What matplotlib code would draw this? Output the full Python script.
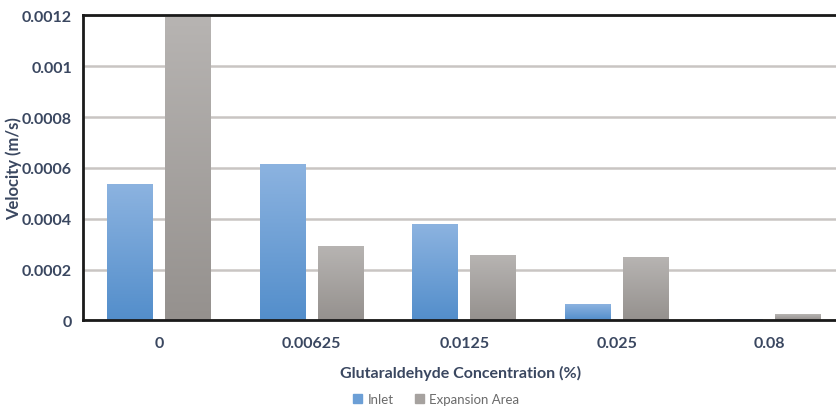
import numpy as np
import matplotlib
matplotlib.use("Agg")
import matplotlib.pyplot as plt
from matplotlib.colors import LinearSegmentedColormap
from matplotlib.patches import Patch

# data
concentrations = ["0", "0.00625", "0.0125", "0.025", "0.08"]
inlet = [0.000535, 0.00061, 0.000375, 0.000062, 0.000003]
expansion = [0.00119, 0.00029, 0.000253, 0.000244, 0.00002]
yticks = [0, 0.0002, 0.0004, 0.0006, 0.0008, 0.001, 0.0012]
ytick_labels = ["0", "0.0002", "0.0004", "0.0006", "0.0008", "0.001", "0.0012"]

text_color = "#3a4760"
plt.rcParams['font.family'] = ['Lato', 'DejaVu Sans']

fig = plt.figure(figsize=(8.36, 4.10), dpi=100)
# the plot area runs past the right edge of the picture, as in the reference
ax = fig.add_axes([0.0993, 0.2159, 0.912, 0.7439])

x = np.arange(len(concentrations))
w = 0.30
off = 0.19
b1 = ax.bar(x - off, inlet, w, color="#6c9fd6", zorder=2)
b2 = ax.bar(x + off, expansion, w, color="#a6a29f", zorder=2)

# vertical gradient fill inside each bar (lighter at top)
blue_cm = LinearSegmentedColormap.from_list("b", ["#538ecb", "#8cb3e0"])
gray_cm = LinearSegmentedColormap.from_list("g", ["#95918e", "#b7b4b2"])
grad = np.linspace(0, 1, 256).reshape(-1, 1)
for bars, cm in ((b1, blue_cm), (b2, gray_cm)):
    for b in bars:
        x0, h = b.get_x(), b.get_height()
        ax.imshow(grad, extent=[x0, x0 + b.get_width(), 0, h], origin="lower",
                  aspect="auto", cmap=cm, zorder=2.5)

ax.set_xlim(-0.5, len(concentrations) - 0.5)
ax.set_ylim(0, 0.0012)
ax.set_yticks(yticks)
ax.set_yticklabels(ytick_labels)
ax.set_xticks(x)
ax.set_xticklabels(concentrations)
ax.tick_params(length=0, labelsize=11.5, labelcolor=text_color)
ax.tick_params(axis="y", pad=8)
ax.tick_params(axis="x", pad=11)
for lab in ax.get_xticklabels() + ax.get_yticklabels():
    lab.set_fontweight("bold")

ax.grid(axis="y", color="#c9c5c3", linewidth=1.8, zorder=1)
ax.set_axisbelow(True)
for side in ("top", "left", "bottom"):
    ax.spines[side].set_color("#1a1a1a")
    ax.spines[side].set_linewidth(2)
ax.spines["right"].set_visible(False)

ax.set_ylabel("Velocity (m/s)", fontsize=12, fontweight="bold", color=text_color)
ax.yaxis.set_label_coords(-0.08, 0.5)
ax.set_xlabel("Glutaraldehyde Concentration (%)", fontsize=11.5, fontweight="bold",
              color=text_color)
ax.xaxis.set_label_coords(0.495, -0.145)

handles = [Patch(color="#6c9fd6"), Patch(color="#a6a29f")]
fig.legend(handles, ["Inlet", "Expansion Area"], loc="center", ncol=2, frameon=False,
           bbox_to_anchor=(0.522, 0.025), fontsize=9.5, labelcolor="#6b6b6b",
           handlelength=0.7, handleheight=0.7, handletextpad=0.4, columnspacing=1.6)

fig.savefig("out.png", dpi=100)
